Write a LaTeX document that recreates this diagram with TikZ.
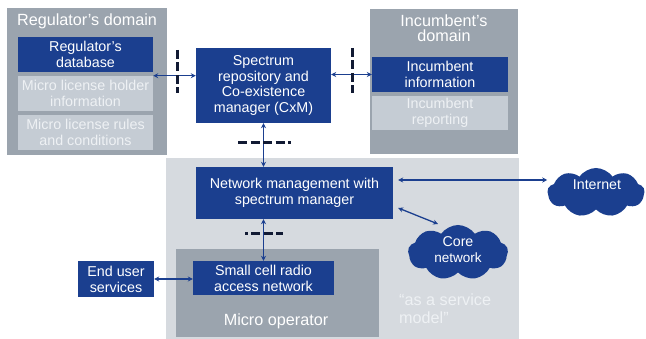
\documentclass[tikz,border=0pt]{standalone}
\usepackage{fontspec}
\setmainfont{Liberation Sans}
\usetikzlibrary{arrows.meta,shapes.symbols}
\definecolor{dblue}{HTML}{1B3F8F}
\definecolor{dgray}{HTML}{9BA4AE}
\definecolor{lgray}{HTML}{C5CCD4}
\definecolor{bggray}{HTML}{D6DADF}
\definecolor{ltext}{HTML}{EEF1F4}
\definecolor{dashc}{HTML}{111A33}
\tikzset{
  domainbox/.style={fill=dgray, draw=none, inner sep=0pt},
  bluebox/.style={fill=dblue, draw=none, text=white, align=center, inner sep=0pt, font=\fontsize{14.3}{15.8}\selectfont},
  greybox/.style={fill=lgray, draw=none, text=ltext, align=center, inner sep=0pt, font=\fontsize{14.3}{15.8}\selectfont},
  titletext/.style={text=white, align=center, inner sep=0pt, font=\fontsize{16.2}{15}\selectfont},
  cloudnode/.style={cloud, cloud puffs=9, cloud puff arc=110, aspect=2, fill=dblue, draw=none, inner sep=0pt},
  cloudtext/.style={text=white, inner sep=0pt, font=\fontsize{14.2}{15}\selectfont},
  link/.style={draw=dblue, line width=1.3pt, {Stealth[length=5pt,width=5pt]}-{Stealth[length=5pt,width=5pt]}},
  iface/.style={draw=dashc, line width=3pt, dash pattern=on 9pt off 3.5pt},
}
\begin{document}
\begin{tikzpicture}[x=1pt,y=-1pt]
\useasboundingbox (0,0) rectangle (646,339);
% backgrounds
\node[domainbox, minimum width=160pt, minimum height=147pt] (regdom) at (87,81.5) {};
\node[titletext] (regtitle) at (87,21) {Regulator’s domain};
\node[bluebox, minimum width=135pt, minimum height=35pt] (regdb) at (85.5,54.5) {Regulator’s\\database};
\node[greybox, minimum width=135pt, minimum height=35pt] (holder) at (85.5,93.5) {Micro license holder\\information};
\node[greybox, minimum width=135pt, minimum height=35pt] (rules) at (85.5,132.5) {Micro license rules\\and conditions};

\node[domainbox, minimum width=148pt, minimum height=145pt] (incdom) at (444,81.5) {};
\node[titletext] (inctitle) at (444,28) {Incumbent’s\\domain};
\node[bluebox, minimum width=136pt, minimum height=35pt] (incinfo) at (440,74.5) {Incumbent\\information};
\node[greybox, minimum width=136pt, minimum height=34pt] (increp) at (440,113) {Incumbent\\reporting};

\node[bluebox, minimum width=135pt, minimum height=75pt] (cxm) at (263.5,85.5) {Spectrum\\repository and\\Co-existence\\manager (CxM)};

\node[fill=bggray, draw=none, minimum width=353pt, minimum height=181pt, inner sep=0pt] (opbg) at (342.5,248.5) {};
\node[bluebox, minimum width=197pt, minimum height=52pt] (netmgmt) at (294.5,193) {Network management with\\spectrum manager};
\node[domainbox, minimum width=203pt, minimum height=88pt] (microop) at (277.5,293) {};
\node[titletext] (microtitle) at (276,321) {Micro operator};
\node[bluebox, minimum width=141pt, minimum height=34pt] (smallcell) at (263.5,278) {Small cell radio\\access network};
\node[bluebox, minimum width=76pt, minimum height=36pt] (enduser) at (116,279) {End user\\services};

\node[cloudnode, minimum width=97pt, minimum height=49pt] (internet) at (596,192.5) {};
\node[cloudtext] (internettext) at (597,185) {Internet};
\node[cloudnode, minimum width=100pt, minimum height=55pt] (core) at (458,252.5) {};
\node[cloudtext] (coretext) at (458,242) {Core};
\node[cloudtext, font=\fontsize{13.5}{14}\selectfont] (corenet) at (458,258) {network};
\node[text=ltext, align=left, anchor=north west, inner sep=0pt, font=\fontsize{16.2}{18}\selectfont] (service) at (399,294) {“as a service\\model”};

% connectors
\coordinate (regport) at ([yshift=-3.5pt]regdb.south east);
\draw[link] (regport) -- (cxm.west |- regport);
\draw[link] (cxm.east |- incinfo.west) -- (incinfo.west);
\draw[link] (cxm.south) -- (cxm.south |- netmgmt.north);
\draw[link] (smallcell.north |- netmgmt.south) -- (smallcell.north);
\draw[link] (enduser.east) -- (smallcell.west |- enduser.east);
\coordinate (netport1) at ([xshift=5pt]netmgmt.east |- 0,180);
\draw[link] (netport1) -- (internet.west |- netport1);
\coordinate (netport2) at ([xshift=5pt]netmgmt.east |- 0,208);
\coordinate (coreport) at (438,224);
\draw[link] (netport2) -- (coreport);

% interface marks
\draw[iface] (177,50) -- (177,93);
\draw[iface] (352,48) -- (352,93);
\draw[iface] (238,143) -- (291,143);
\draw[iface, dash pattern=on 3pt off 3pt on 9pt off 3.5pt on 9pt off 3.5pt on 9pt] (245,234) -- (283,234);
\end{tikzpicture}
\end{document}
